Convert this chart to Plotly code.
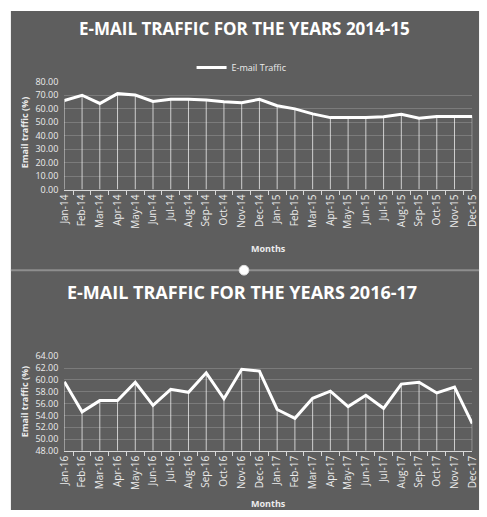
import plotly.graph_objects as go

# ---------------- data ----------------
months_1415 = ["Jan-14", "Feb-14", "Mar-14", "Apr-14", "May-14", "Jun-14", "Jul-14", "Aug-14",
               "Sep-14", "Oct-14", "Nov-14", "Dec-14", "Jan-15", "Feb-15", "Mar-15", "Apr-15",
               "May-15", "Jun-15", "Jul-15", "Aug-15", "Sep-15", "Oct-15", "Nov-15", "Dec-15"]
traffic_1415 = [66.1, 70.0, 63.9, 71.2, 70.2, 65.4, 67.1, 67.1, 66.5, 65.2, 64.5, 67.0,
                62.2, 59.9, 56.2, 53.4, 53.4, 53.4, 54.1, 55.9, 52.9, 54.3, 54.3, 54.3]

months_1617 = ["Jan-16", "Feb-16", "Mar-16", "Apr-16", "May-16", "Jun-16", "Jul-16", "Aug-16",
               "Sep-16", "Oct-16", "Nov-16", "Dec-16", "Jan-17", "Feb-17", "Mar-17", "Apr-17",
               "May-17", "Jun-17", "Jul-17", "Aug-17", "Sep-17", "Oct-17", "Nov-17", "Dec-17"]
traffic_1617 = [59.7, 54.6, 56.5, 56.5, 59.6, 55.7, 58.4, 57.9, 61.2, 56.8, 61.8, 61.5,
                55.0, 53.5, 56.9, 58.1, 55.5, 57.4, 55.2, 59.3, 59.6, 57.8, 58.8, 52.6]

title_1415 = "E-MAIL TRAFFIC FOR THE YEARS 2014-15"
title_1617 = "E-MAIL TRAFFIC FOR THE YEARS 2016-17"
series_name = "E-mail Traffic"
y_title = "Email traffic (%)"
x_title = "Months"
y_range_1415 = [0, 80]
y_range_1617 = [48, 64]

# ---------------- layout helpers ----------------
W, H = 487, 517
BG = "#5e5e5e"
GRID = "#7b7b7b"
TXT = "#ececec"
FONT = "Open Sans"


def fx(px):
    return px / W


def fy(py):
    return 1 - py / H


def drops(xs, ys, base):
    dx, dy = [], []
    for x, y in zip(xs, ys):
        dx += [x, x, None]
        dy += [y, base, None]
    return dx, dy


fig = go.Figure()

# top chart
dx, dy = drops(months_1415, traffic_1415, y_range_1415[0])
fig.add_trace(go.Scatter(x=dx, y=dy, mode="lines", xaxis="x", yaxis="y",
                         line=dict(color="rgba(255,255,255,0.7)", width=1),
                         showlegend=False, hoverinfo="skip"))
fig.add_trace(go.Scatter(x=months_1415, y=traffic_1415, mode="lines", name=series_name,
                         xaxis="x", yaxis="y", line=dict(color="white", width=3)))

# bottom chart
dx2, dy2 = drops(months_1617, traffic_1617, y_range_1617[0])
fig.add_trace(go.Scatter(x=dx2, y=dy2, mode="lines", xaxis="x2", yaxis="y2",
                         line=dict(color="rgba(255,255,255,0.7)", width=1),
                         showlegend=False, hoverinfo="skip"))
fig.add_trace(go.Scatter(x=months_1617, y=traffic_1617, mode="lines", name=series_name,
                         xaxis="x2", yaxis="y2", line=dict(color="white", width=3),
                         showlegend=False))

xaxis_common = dict(type="category", tickson="boundaries", ticks="outside", ticklen=4,
                    tickcolor="#d8d8d8", showline=True, linecolor="#d8d8d8", linewidth=1,
                    showgrid=False, tickangle=-90, fixedrange=True,
                    tickfont=dict(family=FONT, size=10, color=TXT),
                    domain=[fx(58), fx(478)])
yaxis_common = dict(tickformat=".2f", gridcolor=GRID, gridwidth=1, showline=False,
                    zeroline=False, ticks="", fixedrange=True, ticklabelstandoff=5,
                    tickfont=dict(family=FONT, size=9, color=TXT))

fig.update_layout(
    width=W, height=H,
    margin=dict(l=0, r=0, t=0, b=0),
    paper_bgcolor="white",
    plot_bgcolor="rgba(0,0,0,0)",
    xaxis=dict(anchor="y", categoryorder="array", categoryarray=months_1415, **xaxis_common),
    yaxis=dict(anchor="x", domain=[fy(187.3), fy(76.7)], range=y_range_1415, dtick=10,
               **yaxis_common),
    xaxis2=dict(anchor="y2", categoryorder="array", categoryarray=months_1617, **xaxis_common),
    yaxis2=dict(anchor="x2", domain=[fy(455.3), fy(358.3)], range=y_range_1617, dtick=2,
                **yaxis_common),
    legend=dict(orientation="h", x=fx(241), xanchor="center", y=fy(62), yanchor="middle",
                font=dict(family=FONT, size=9, color=TXT), bgcolor="rgba(0,0,0,0)",
                itemwidth=30, tracegroupgap=0),
    showlegend=True,
    shapes=[
        dict(type="rect", xref="paper", yref="paper", x0=fx(3), x1=fx(485), y0=fy(516), y1=fy(4),
             fillcolor=BG, line=dict(width=0), layer="below"),
        dict(type="line", xref="paper", yref="paper", x0=fx(3), x1=fx(485), y0=fy(270), y1=fy(270),
             line=dict(color="#8e8e8e", width=2), layer="below"),
        dict(type="circle", xref="paper", yref="paper", x0=fx(238), x1=fx(248), y0=fy(275), y1=fy(265),
             fillcolor="white", line=dict(color="#dddddd", width=1), layer="above"),
    ],
    annotations=[
        dict(text=title_1415, x=fx(243), y=fy(22), xref="paper", yref="paper", showarrow=False,
             xanchor="center", yanchor="middle",
             font=dict(family=FONT, size=17, color="white", weight="bold")),
        dict(text=title_1617, x=fx(241), y=fy(292), xref="paper", yref="paper", showarrow=False,
             xanchor="center", yanchor="middle",
             font=dict(family=FONT, size=18, color="white", weight="bold")),
        dict(text=y_title, x=fx(17), y=fy(129), xref="paper", yref="paper", showarrow=False,
             textangle=-90, xanchor="center", yanchor="middle",
             font=dict(family=FONT, size=9, color=TXT, weight="bold")),
        dict(text=y_title, x=fx(17), y=fy(405), xref="paper", yref="paper", showarrow=False,
             textangle=-90, xanchor="center", yanchor="middle",
             font=dict(family=FONT, size=9, color=TXT, weight="bold")),
        dict(text=x_title, x=fx(268), y=fy(248), xref="paper", yref="paper", showarrow=False,
             xanchor="center", yanchor="middle",
             font=dict(family=FONT, size=9, color=TXT, weight="bold")),
        dict(text=x_title, x=fx(268), y=fy(509), xref="paper", yref="paper", showarrow=False,
             xanchor="center", yanchor="middle",
             font=dict(family=FONT, size=9, color=TXT, weight="bold")),
    ],
)

fig.write_html("out.html")
